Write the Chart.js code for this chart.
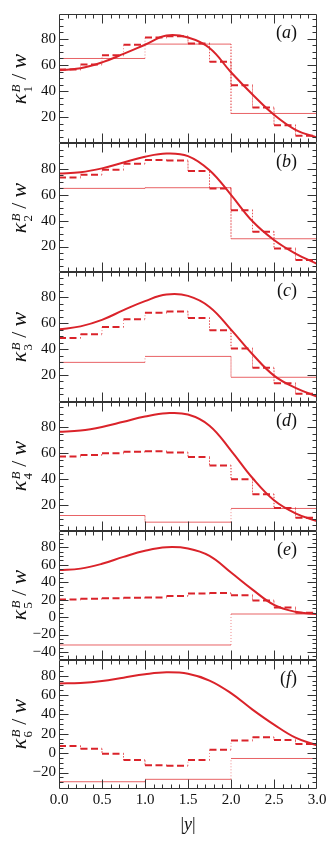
<!DOCTYPE html>
<html>
<head>
<meta charset="utf-8">
<script src="https://cdn.jsdelivr.net/npm/chart.js"></script>
<style>
  html, body { margin: 0; padding: 0; background: #fff; }
  #wrap { position: relative; width: 332px; height: 849px; overflow: hidden; }
  #chart { position: absolute; left: 0; top: 0; }
  .yt, .pl, .xt { position: absolute; font-family: "Liberation Serif", "Times New Roman", serif; color: #111; white-space: nowrap; line-height: 1; }
  .yt { font-size: 22px; transform: rotate(-90deg); }
  .yt .ss { display: inline-block; font-size: 13px; line-height: 12px; vertical-align: -6px; margin-left: 1px; }
  .yt .ss > * { display: block; }
  .yt .sl { margin: 0 5px; }
  .pl { font-size: 18px; }
  .xt { font-size: 18px; }
</style>
</head>
<body>
<div id="wrap">
  <canvas id="chart" width="332" height="849"></canvas>
</div>
<script>
// x positions
const curveX = [0, 0.25, 0.5, 0.75, 1, 1.25, 1.5, 1.75, 2, 2.25, 2.5, 2.75, 3];
const fineEdges = [0, 0.25, 0.5, 0.75, 1, 1.25, 1.5, 1.75, 2, 2.25, 2.5, 2.75, 3];
const wideEdges = [0, 1, 2, 3];
const xTicks = [0, 0.5, 1, 1.5, 2, 2.5, 3];

// panel (a)
const curveA = [56, 57.5, 62, 68.5, 75.5, 82.5, 81, 73, 54.5, 37.5, 22, 10.5, 4.5];
const dashA = [56.5, 60.5, 67.5, 75.5, 81, 82, 76.5, 62.5, 44.5, 27.5, 14, 6];
const thinA = [65, 76, 23];
const ticksA = [20, 40, 60, 80];

// panel (b)
const curveB = [76.5, 77.5, 80.5, 85, 89.5, 92, 90, 79, 60, 39.5, 25, 14.5, 6.6];
const dashB = [73.5, 75.5, 79.5, 84, 87, 86.5, 78.5, 65, 48, 31.5, 18.5, 9.5];
const thinB = [65, 65.5, 26];
const ticksB = [20, 40, 60, 80];

// panel (c)
const curveC = [55.2, 57.5, 62.5, 70, 77, 82, 81, 72.5, 55, 36, 19.5, 10, 3.4];
const dashC = [48.5, 51.5, 57, 63, 68, 69, 64, 54.5, 40.5, 25.5, 13.5, 5.5];
const thinC = [29.7, 34.3, 18.2];
const ticksC = [20, 40, 60, 80];

// panel (d)
const curveD = [76.4, 77.3, 80, 84, 88, 90.5, 89.5, 81, 62, 41, 24, 14, 8];
const dashD = [57.5, 58.5, 60, 61, 61.5, 60.5, 57, 50.5, 40, 28.5, 18, 10.5];
const thinD = [12.3, 7.2, 17.7];
const ticksD = [20, 40, 60, 80];

// panel (e)
const curveE = [54, 55.5, 61, 69, 76, 80, 78.5, 70, 51, 31.5, 14, 6, 3.2];
const dashE = [20, 21, 21.5, 22, 22.5, 24, 27, 27.5, 25, 19, 11, 5];
const thinE = [-32, -32, 3.5];
const ticksE = [-40, -20, 0, 20, 40, 60, 80];

// panel (f)
const curveF = [72, 72.5, 74.5, 78, 81.5, 83.5, 82, 75, 62, 45, 29.5, 16, 8];
const dashF = [7.5, 4.5, -0.5, -7, -12.5, -13, -7, 3.5, 13, 16.5, 13.5, 9.5];
const thinF = [-29.5, -27, -5.5];
const ticksF = [-20, 0, 20, 40, 60, 80];

const RED = 'rgb(218,35,42)';
const THIN = 'rgba(226,60,64,0.8)';
const DOT = 'rgba(226,60,64,0.6)';
const SERIF = '"Liberation Serif", "Times New Roman", serif';
const FRAME = '#333';

const panels = [
  { id: 'ya', tag: 'a', sub: '1', min: 0.3, max: 99, curve: curveA, dash: dashA, thin: thinA, ticks: ticksA },
  { id: 'yb', tag: 'b', sub: '2', min: 0, max: 100, curve: curveB, dash: dashB, thin: thinB, ticks: ticksB },
  { id: 'yc', tag: 'c', sub: '3', min: -0.5, max: 99.2, curve: curveC, dash: dashC, thin: thinC, ticks: ticksC },
  { id: 'yd', tag: 'd', sub: '4', min: 0.7, max: 99.5, curve: curveD, dash: dashD, thin: thinD, ticks: ticksD },
  { id: 'ye', tag: 'e', sub: '5', min: -49, max: 99, curve: curveE, dash: dashE, thin: thinE, ticks: ticksE },
  { id: 'yf', tag: 'f', sub: '6', min: -37, max: 96.4, curve: curveF, dash: dashF, thin: thinF, ticks: ticksF }
];

function stepPoints(edges, vals) {
  const pts = [];
  vals.forEach((v, i) => {
    pts.push({ x: edges[i], y: v });
    pts.push({ x: edges[i + 1], y: v });
  });
  return pts;
}

const isVert = ctx => ctx.p0.parsed.x === ctx.p1.parsed.x;
const datasets = [];
panels.forEach(p => {
  datasets.push({
    data: curveX.map((x, i) => ({ x: x, y: p.curve[i] })),
    yAxisID: p.id, borderColor: RED, borderWidth: 2, pointRadius: 0,
    tension: 0.4, fill: false
  });
  datasets.push({
    data: stepPoints(fineEdges, p.dash),
    yAxisID: p.id, borderColor: RED, borderWidth: 2, pointRadius: 0, fill: false,
    segment: {
      borderDash: ctx => isVert(ctx) ? [1, 2] : [7, 3.5],
      borderWidth: ctx => isVert(ctx) ? 1 : 2,
      borderColor: ctx => isVert(ctx) ? DOT : RED
    }
  });
  datasets.push({
    data: stepPoints(wideEdges, p.thin),
    yAxisID: p.id, borderColor: THIN, borderWidth: 1, pointRadius: 0, fill: false,
    segment: {
      borderDash: ctx => isVert(ctx) ? [1, 2] : [],
      borderColor: ctx => isVert(ctx) ? DOT : THIN
    }
  });
});

const scales = {};
// last left axis in the stack ends up on top, so add (f) first
panels.slice().reverse().forEach(p => {
  scales[p.id] = {
    type: 'linear', position: 'left', stack: 'k', stackWeight: 1,
    min: p.min, max: p.max,
    grid: { display: false, drawTicks: false },
    border: { display: false },
    ticks: {
      color: '#111', padding: 3, autoSkip: false,
      font: { family: SERIF, size: 15 },
      callback: v => v < 0 ? '\u2212' + Math.abs(v) : String(v)
    },
    afterBuildTicks: s => { s.ticks = p.ticks.map(v => ({ value: v })); },
    afterFit: s => { s.width = 59; }
  };
});
scales.x = {
  type: 'linear', position: 'bottom', min: 0, max: 3,
  grid: { display: false, drawTicks: false },
  border: { display: false },
  ticks: {
    color: '#111', padding: 2, autoSkip: false, maxRotation: 0,
    font: { family: SERIF, size: 15 },
    callback: v => v.toFixed(1)
  },
  afterBuildTicks: s => { s.ticks = xTicks.map(v => ({ value: v })); },
  afterFit: s => { s.height = 60; }
};

// frames and inward tick marks for each panel
const frameTicks = {
  id: 'frameTicks',
  afterDatasetsDraw(chart) {
    const ctx = chart.ctx;
    const xs = chart.scales.x;
    const left = Math.round(chart.chartArea.left) + 0.5;
    const right = Math.round(chart.chartArea.right) - 0.5;
    ctx.save();
    ctx.strokeStyle = FRAME;
    ctx.lineWidth = 1;
    panels.forEach(p => {
      const s = chart.scales[p.id];
      const top = Math.round(s.top) + 0.5;
      const bottom = Math.round(s.bottom) - 0.5;
      ctx.beginPath();
      ctx.rect(left, top, right - left, bottom - top);
      for (let i = 1; i < 30; i++) {
        const px = Math.round(xs.getPixelForValue(i / 10)) + 0.5;
        const len = i % 5 === 0 ? 9 : 4;
        ctx.moveTo(px, top); ctx.lineTo(px, top + len);
        ctx.moveTo(px, bottom); ctx.lineTo(px, bottom - len);
      }
      for (let v = Math.ceil(p.min / 5) * 5; v <= p.max; v += 5) {
        const py = Math.round(s.getPixelForValue(v)) + 0.5;
        if (py <= top + 1 || py >= bottom - 1) continue;
        const len = v % 20 === 0 ? 9 : 4;
        ctx.moveTo(left, py); ctx.lineTo(left + len, py);
        ctx.moveTo(right, py); ctx.lineTo(right - len, py);
      }
      ctx.stroke();
    });
    ctx.restore();
  }
};

const chart = new Chart(document.getElementById('chart'), {
  type: 'line',
  data: { datasets: datasets },
  options: {
    responsive: false,
    animation: false,
    events: [],
    layout: { padding: { top: 14, right: 15, left: 0, bottom: 0 } },
    plugins: { legend: { display: false }, tooltip: { enabled: false } },
    scales: scales
  },
  plugins: [frameTicks]
});

// axis titles and panel tags as html text
const wrap = document.getElementById('wrap');
panels.forEach(p => {
  const s = chart.scales[p.id];
  const cy = (s.top + s.bottom) / 2;
  const yt = document.createElement('div');
  yt.className = 'yt';
  yt.innerHTML = '<i>\u03ba</i><span class="ss"><i>B</i><span>' + p.sub + '</span></span><span class="sl">/</span><i>w</i>';
  wrap.appendChild(yt);
  yt.style.left = (21 - yt.offsetWidth / 2) + 'px';
  yt.style.top = (cy - yt.offsetHeight / 2) + 'px';

  const pl = document.createElement('div');
  pl.className = 'pl';
  pl.innerHTML = '(<i>' + p.tag + '</i>)';
  wrap.appendChild(pl);
  pl.style.left = (297 - pl.offsetWidth) + 'px';
  pl.style.top = (s.top + 18 - pl.offsetHeight / 2) + 'px';
});
const xt = document.createElement('div');
xt.className = 'xt';
xt.innerHTML = '|<i>y</i>|';
wrap.appendChild(xt);
const ca = chart.chartArea;
xt.style.left = ((ca.left + ca.right) / 2 - xt.offsetWidth / 2) + 'px';
xt.style.top = (824 - xt.offsetHeight / 2) + 'px';
</script>
</body>
</html>
